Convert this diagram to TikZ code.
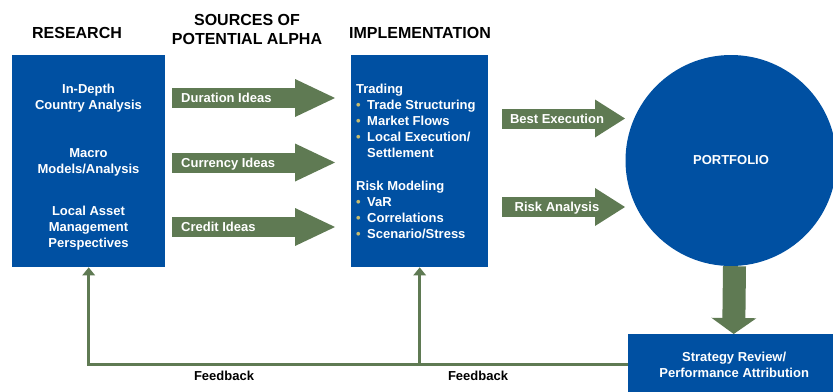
\documentclass[tikz,border=0pt]{standalone}
\usepackage{fontspec}
\setmainfont{Liberation Sans}
\usetikzlibrary{arrows.meta}

\definecolor{boxblue}{RGB}{0,80,162}
\definecolor{arrowgreen}{RGB}{95,122,83}
\definecolor{dotkhaki}{RGB}{198,188,112}

\tikzset{
    bluebox/.style={fill=boxblue, inner sep=0pt, anchor=north west},
    boxtext/.style={text=white, font=\fontsize{13bp}{16bp}\selectfont\bfseries, align=center, inner sep=0pt},
    arrowtext/.style={text=white, font=\fontsize{13bp}{16bp}\selectfont\bfseries, inner sep=0pt},
    heading/.style={font=\fontsize{16bp}{19bp}\selectfont\bfseries, align=center, inner sep=0pt},
    plaintext/.style={font=\fontsize{13bp}{16bp}\selectfont\bfseries, inner sep=0pt},
    fatarrow/.style={arrowgreen, line width=20bp, -{Triangle[length=#1 0 0, width=38bp 0 0, line width=0pt 0 0]}},
    fatarrow/.default=40bp,
    downarrow/.style={arrowgreen, line width=23bp, -{Triangle[length=16bp 0 0, width=45bp 0 0, line width=0pt 0 0]}},
    feedback/.style={arrowgreen, line width=3bp, -{Triangle[length=8bp 0 0, width=13bp 0 0, line width=0pt 0 0]}}
}
\newcommand{\dotitem}{\makebox[11bp][l]{\textcolor{dotkhaki}{\textbullet}}}

\begin{document}
\begin{tikzpicture}[x=1bp, y=-1bp]
    \useasboundingbox (0,0) rectangle (833,391);

    % column headings
    \node[heading] (reshead) at (77,33) {RESEARCH};
    \node[heading] (srchead) at (247,29.5) {SOURCES OF\\POTENTIAL ALPHA};
    \node[heading] (implhead) at (420,33) {IMPLEMENTATION};

    % research column
    \node[bluebox, minimum width=153bp, minimum height=212bp] (research) at (12,55) {};
    \node[boxtext] (depth) at (88.5,98) {In-Depth\\Country Analysis};
    \node[boxtext] (macro) at (88.5,162) {Macro\\Models/Analysis};
    \node[boxtext] (local) at (88.5,228) {Local Asset\\Management\\Perspectives};

    % implementation column
    \node[bluebox, minimum width=137bp, minimum height=212bp] (impl) at (351,55) {};
    \node[boxtext, align=left, anchor=north west] (implist) at (356,84) {Trading\\
        \dotitem Trade Structuring\\
        \dotitem Market Flows\\
        \dotitem Local Execution/\\
        \hspace*{11bp}Settlement\\[17bp]
        Risk Modeling\\
        \dotitem VaR\\
        \dotitem Correlations\\
        \dotitem Scenario/Stress};

    % sources of alpha
    \foreach \y/\txt [count=\i] in {98/Duration Ideas, 162.5/Currency Ideas, 227/Credit Ideas}
        \draw[fatarrow] (172,\y) -- (335,\y);
    \node[arrowtext, anchor=base west] (idea1) at (181,102.7) {Duration Ideas};
    \node[arrowtext, anchor=base west] (idea2) at (181,167.2) {Currency Ideas};
    \node[arrowtext, anchor=base west] (idea3) at (181,231.7) {Credit Ideas};

    \draw[fatarrow=30bp] (502,118.5) -- (625,118.5);
    \draw[fatarrow=30bp] (502,207) -- (625,207);
    \node[arrowtext, anchor=base] (bestex) at (557,123.2) {Best Execution};
    \node[arrowtext, anchor=base] (riskan) at (557,211.7) {Risk Analysis};

    \node[circle, fill=boxblue, minimum size=211bp, boxtext] (portfolio) at (731,160.5) {PORTFOLIO};
    \node[bluebox, boxtext, minimum width=212bp, minimum height=61bp] (review) at (628,334) {Strategy Review/\\Performance Attribution};

    \draw[downarrow] ([xshift=3.5bp]portfolio.south) -- ([xshift=-0.5bp]review.north);

    % feedback loop
    \draw[feedback] (review.west) -| (research.south);
    \draw[feedback] (review.west -| impl.south) -- (impl.south);
    \node[plaintext] (fbleft) at (224,376) {Feedback};
    \node[plaintext] (fbright) at (478,376) {Feedback};
\end{tikzpicture}
\end{document}
